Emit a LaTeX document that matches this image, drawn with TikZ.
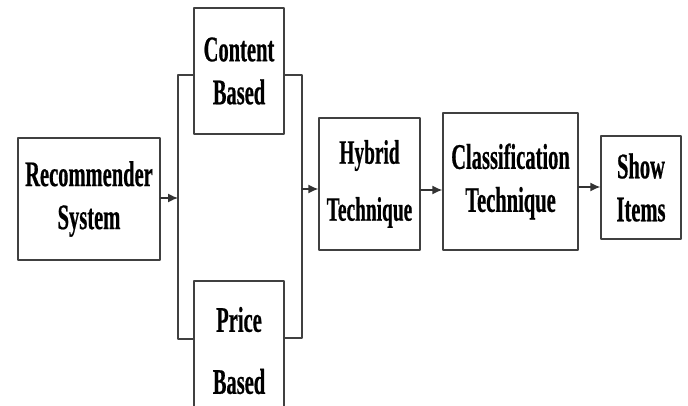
\documentclass[tikz,border=0pt]{standalone}
\usepackage{fontspec}
\usepackage{tikz}
\usetikzlibrary{arrows.meta,calc,positioning}
\newfontfamily\blkfont[FakeStretch=0.57,FakeBold=0.5]{Liberation Serif}
\tikzset{
  blk/.style={rectangle, draw=black!75, line width=1.3pt, align=center, inner sep=0pt,
    font=\blkfont\bfseries\fontsize{36}{43}\selectfont},
  arr/.style={-{Latex[length=10pt,width=9pt]}, line width=1.3pt, draw=black!80},
  wire/.style={line width=1.3pt, draw=black!75},
  every picture/.style={line cap=round, line join=round}
}
\begin{document}
\begin{tikzpicture}[x=1pt,y=-1pt]
  \useasboundingbox (0,0) rectangle (688,406);
  \clip (0,0) rectangle (688,406);
  \node[blk, minimum width=142pt, minimum height=122pt] (rec) at (89,199) {Recommender\\System};
  \node[blk, minimum width=90pt, minimum height=126pt] (cont) at (239,71) {Content\\Based};
  \node[blk, minimum width=90pt, minimum height=139pt, font=\blkfont\bfseries\fontsize{36}{62}\selectfont] (price) at (239,350.5) {Price\\Based};
  \node[blk, minimum width=101pt, minimum height=132pt, font=\blkfont\bfseries\fontsize{34}{57}\selectfont] (hyb) at (369.5,184) {Hybrid\\Technique};
  \node[blk, minimum width=135pt, minimum height=137pt] (cls) at (510.5,181.5) {Classification\\Technique};
  \node[blk, minimum width=80pt, minimum height=103pt] (show) at (641,187.5) {Show\\Items};
  % brackets round the two filters
  \coordinate (lt) at (178,75);
  \coordinate (lb) at (178,339);
  \coordinate (rt) at (302,75);
  \coordinate (rb) at (302,338);
  \draw[wire] (cont.west |- lt) -- (lt) -- (lb) -- (price.west |- lb);
  \draw[wire] (cont.east |- rt) -- (rt) -- (rb) -- (price.east |- rb);
  \draw[arr] (rec.east |- 0,198) -- (lt |- 0,198);
  \draw[arr] (rt |- 0,189) -- (hyb.west |- 0,189);
  \draw[arr] (hyb.east |- 0,190) -- (cls.west |- 0,190);
  \draw[arr] (cls.east |- 0,187) -- (show.west |- 0,187);
\end{tikzpicture}
\end{document}
